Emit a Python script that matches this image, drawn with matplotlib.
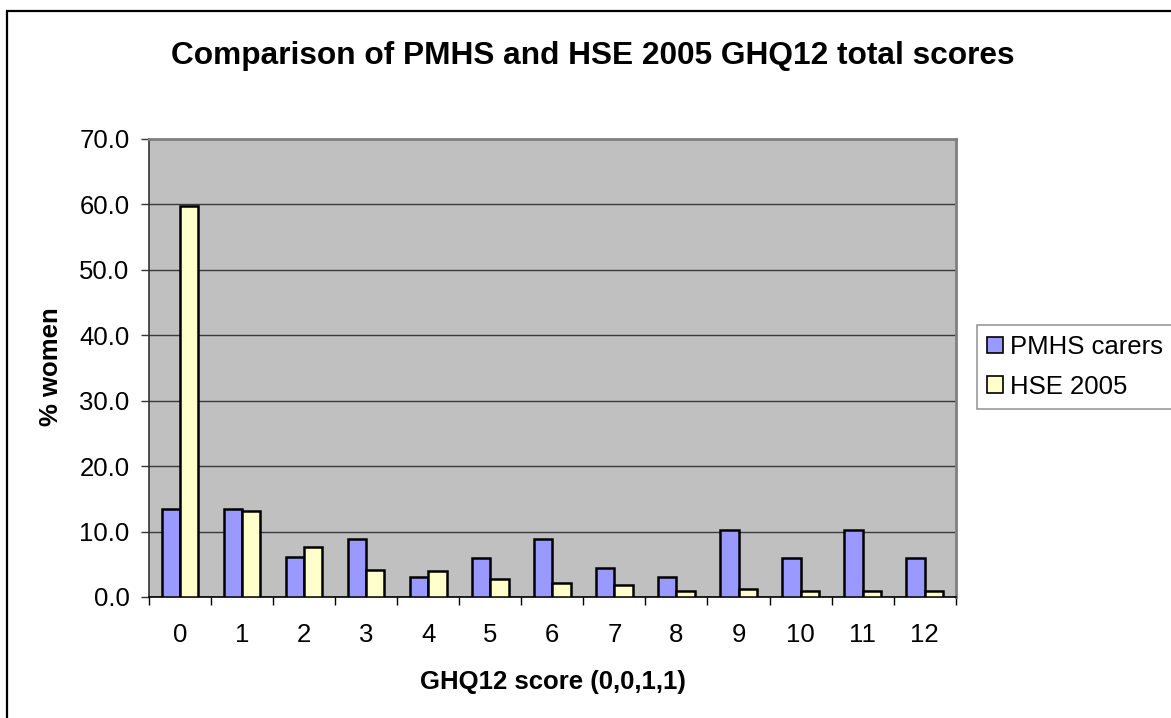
import matplotlib
matplotlib.use("Agg")
import matplotlib.pyplot as plt
from matplotlib.patches import Rectangle, Patch
from matplotlib.ticker import FixedLocator, NullFormatter, FixedFormatter
import numpy as np

plt.rcParams['font.family'] = ['Liberation Sans', 'DejaVu Sans']

categories = ['0', '1', '2', '3', '4', '5', '6', '7', '8', '9', '10', '11', '12']
pmhs_carers = [13.4, 13.4, 6.1, 8.9, 3.0, 6.0, 8.8, 4.5, 3.0, 10.3, 6.0, 10.3, 6.0]
hse_2005 = [59.7, 13.1, 7.7, 4.2, 3.9, 2.7, 2.1, 1.8, 0.9, 1.2, 0.9, 0.9, 0.9]
series_names = ['PMHS carers', 'HSE 2005']
y_ticks = [0, 10, 20, 30, 40, 50, 60, 70]

W, H = 1171, 718
fig = plt.figure(figsize=(W / 100, H / 100), dpi=100)
fig.patch.set_facecolor('white')

# outer chart border
fig.patches.append(Rectangle((7 / W, -0.05), 1.1, 1 - 11 / H + 0.05, transform=fig.transFigure,
                             fill=False, edgecolor='black', linewidth=1.6))

L, R, T, B = 149, 955.7, 139, 597
ax = fig.add_axes([L / W, 1 - B / H, (R - L) / W, (B - T) / H])
ax.set_facecolor('#C0C0C0')

n = len(categories)
centers = np.arange(n) + 0.5
bw = 0.295
ax.bar(centers - bw / 2, pmhs_carers, width=bw, color='#9999FF', edgecolor='black', linewidth=1.8, zorder=3)
ax.bar(centers + bw / 2, hse_2005, width=bw, color='#FFFFCC', edgecolor='black', linewidth=1.8, zorder=3)

ax.set_xlim(0, n)
ax.set_ylim(0, 70)
ax.set_yticks(y_ticks)
ax.set_yticklabels([f'{v:.1f}' for v in y_ticks], fontsize=18.5)
ax.yaxis.grid(True, color='#3a3a3a', linewidth=1.0, zorder=0)
ax.set_axisbelow(True)

ax.xaxis.set_major_locator(FixedLocator(np.arange(n + 1)))
ax.xaxis.set_major_formatter(NullFormatter())
ax.xaxis.set_minor_locator(FixedLocator(centers))
ax.xaxis.set_minor_formatter(FixedFormatter(categories))
ax.tick_params(axis='x', which='major', length=6, width=1, direction='out', color='black')
ax.tick_params(axis='x', which='minor', length=0, pad=19, labelsize=18.5)
ax.tick_params(axis='y', which='major', length=6, width=1, direction='out', pad=8, color='#333333')

for s in ['top', 'right']:
    ax.spines[s].set_color('#808080')
    ax.spines[s].set_linewidth(2)
ax.spines['left'].set_color('#333333')
ax.spines['left'].set_linewidth(1.2)
ax.spines['bottom'].set_color('black')
ax.spines['bottom'].set_linewidth(1.2)

fig.text(592.5 / W, 1 - 56 / H, 'Comparison of PMHS and HSE 2005 GHQ12 total scores',
         ha='center', va='center', fontsize=22.8, fontweight='bold')
fig.text(51 / W, 1 - 367 / H, '% women', rotation=90, ha='center', va='center',
         fontsize=18.5, fontweight='bold')
fig.text(553 / W, 1 - 682 / H, 'GHQ12 score (0,0,1,1)', ha='center', va='center',
         fontsize=18.5, fontweight='bold')

handles = [Patch(facecolor='#9999FF', edgecolor='black', linewidth=1.2),
           Patch(facecolor='#FFFFCC', edgecolor='black', linewidth=1.2)]
leg = fig.legend(handles, series_names, loc='upper left', bbox_to_anchor=(977 / W, 1 - 325 / H),
                 fontsize=18.5, frameon=True, fancybox=False, edgecolor='#808080',
                 handlelength=0.6, handleheight=0.6, handletextpad=0.3, borderpad=0.4,
                 labelspacing=0.6, borderaxespad=0)
leg.get_frame().set_linewidth(1.2)

fig.savefig('out.png', dpi=100)
